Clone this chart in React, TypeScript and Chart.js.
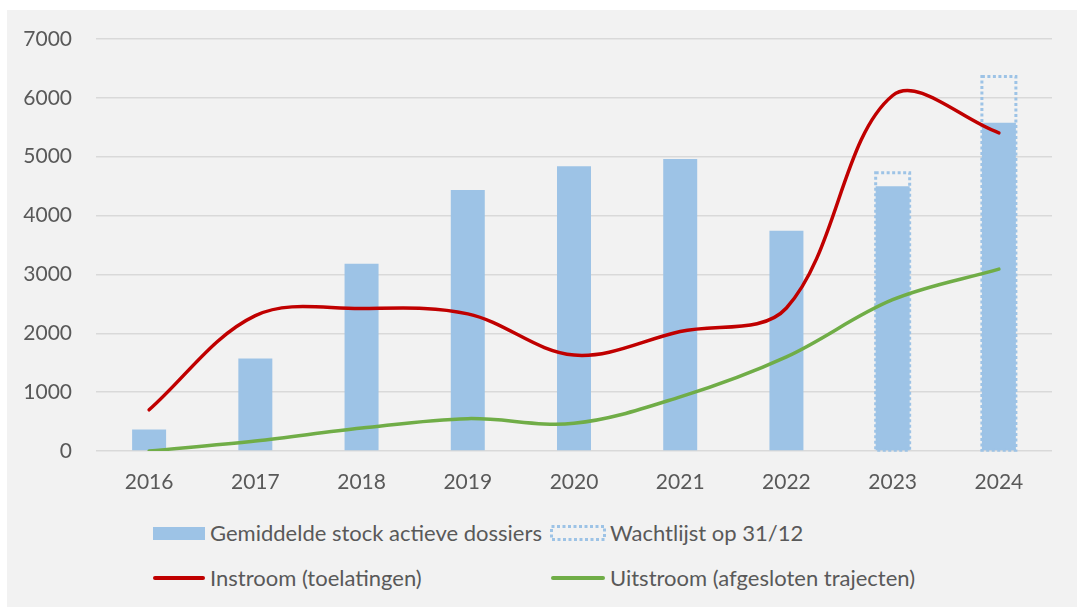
import React, { useEffect, useRef } from "react";
import { Chart, registerables } from "chart.js";

Chart.register(...registerables);

const categories = ["2016", "2017", "2018", "2019", "2020", "2021", "2022", "2023", "2024"];
const stockActief = [367, 1570, 3180, 4435, 4840, 4960, 3740, 4500, 5575];
const wachtlijst = [null, null, null, null, null, null, null, 4755, 6390];
const instroom = [700, 2300, 2420, 2330, 1630, 2030, 2430, 6040, 5405];
const uitstroom = [0, 170, 390, 550, 470, 920, 1600, 2570, 3090];
const yTicks = [0, 1000, 2000, 3000, 4000, 5000, 6000, 7000];

const labelStock = "Gemiddelde stock actieve dossiers";
const labelWacht = "Wachtlijst op 31/12";
const labelIn = "Instroom (toelatingen)";
const labelUit = "Uitstroom (afgesloten trajecten)";

const BLUE = "#9dc3e6";
const RED = "#c00000";
const GREEN = "#70ad47";
const TEXT = "#595959";
const FONT = "Lato, 'Open Sans', sans-serif";

const dottedPlugin = {
  id: "dottedWacht",
  afterDatasetDraw(chart: any, args: any) {
    if (args.index !== 1) return;
    const meta = chart.getDatasetMeta(1);
    const ctx = chart.ctx;
    ctx.save();
    ctx.setLineDash([3, 2.5]);
    ctx.lineWidth = 3;
    ctx.strokeStyle = BLUE;
    meta.data.forEach((el: any, i: number) => {
      if (wachtlijst[i] == null) return;
      const p = el.getProps(["x", "y", "base", "width"], true);
      const w = p.width;
      ctx.strokeRect(p.x - w / 2, p.y + 1.5, w, p.base - p.y - 1.5);
    });
    ctx.restore();
  },
};

export default function App() {
  const ref = useRef<HTMLCanvasElement>(null);

  useEffect(() => {
    if (!ref.current) return;
    const chart = new Chart(ref.current, {
      type: "bar",
      data: {
        labels: categories,
        datasets: [
          {
            type: "bar",
            label: labelStock,
            data: stockActief,
            backgroundColor: BLUE,
            grouped: false,
            barPercentage: 0.32,
            categoryPercentage: 1,
            order: 2,
          } as any,
          {
            type: "bar",
            label: labelWacht,
            data: wachtlijst,
            backgroundColor: "rgba(0,0,0,0)",
            borderWidth: 0,
            grouped: false,
            barPercentage: 0.32,
            categoryPercentage: 1,
            order: 1,
          } as any,
          {
            type: "line",
            label: labelIn,
            data: instroom,
            borderColor: RED,
            backgroundColor: RED,
            borderWidth: 3.5,
            pointRadius: 0,
            tension: 0.35,
            borderCapStyle: "round",
            order: 0,
          } as any,
          {
            type: "line",
            label: labelUit,
            data: uitstroom,
            borderColor: GREEN,
            backgroundColor: GREEN,
            borderWidth: 3.5,
            pointRadius: 0,
            tension: 0.35,
            borderCapStyle: "round",
            order: 0,
          } as any,
        ],
      },
      options: {
        animation: false,
        responsive: false,
        maintainAspectRatio: false,
        layout: { padding: { top: 29, right: 25, left: 0, bottom: 0 } },
        plugins: {
          legend: { display: false },
          tooltip: { enabled: false },
        },
        scales: {
          x: {
            grid: { display: false },
            border: { display: false },
            ticks: {
              color: TEXT,
              font: { family: FONT, size: 21 },
              padding: 11,
              maxRotation: 0,
            },
            afterFit(scale: any) {
              scale.height = 59;
            },
          },
          y: {
            min: 0,
            max: 7000,
            afterBuildTicks(scale: any) {
              scale.ticks = yTicks.map((v) => ({ value: v }));
            },
            grid: {
              color: "#d9d9d9",
              lineWidth: 1.5,
              drawTicks: true,
              tickLength: 24,
              tickColor: "rgba(0,0,0,0)",
            },
            border: { display: false },
            ticks: {
              color: TEXT,
              font: { family: FONT, size: 21 },
              padding: 0,
              callback: (v: any) => String(v),
            },
            afterFit(scale: any) {
              scale.width = 89;
            },
          },
        },
      } as any,
      plugins: [dottedPlugin],
    });
    return () => chart.destroy();
  }, []);

  const textStyle: React.CSSProperties = {
    position: "absolute",
    fontFamily: FONT,
    fontSize: 22,
    color: TEXT,
    lineHeight: "30px",
    height: 30,
    whiteSpace: "nowrap",
  };

  const row1 = 523;
  const row2 = 568;

  return (
    <div style={{ position: "fixed", left: 0, top: 0, width: 1077, height: 607, background: "#ffffff" }}>
      <div style={{ position: "absolute", left: 7, top: 10, width: 1070, height: 597, background: "#f2f2f2" }}>
        <canvas ref={ref} width={1070} height={500} style={{ position: "absolute", left: 0, top: 0, width: 1070, height: 500 }} />
        <div style={{ position: "absolute", left: 146, top: row1 - 6.5, width: 52, height: 13, background: BLUE }} />
        <div style={{ ...textStyle, left: 203, top: row1 - 15 }}>{labelStock}</div>
        <svg style={{ position: "absolute", left: 543, top: row1 - 8 }} width={56} height={16}>
          <rect x={1.5} y={1.5} width={53} height={13} fill="none" stroke={BLUE} strokeWidth={3} strokeDasharray="3 2.5" />
        </svg>
        <div style={{ ...textStyle, left: 603, top: row1 - 15 }}>{labelWacht}</div>
        <div style={{ position: "absolute", left: 146, top: row2 - 1.75, width: 52, height: 3.5, background: RED, borderRadius: 2 }} />
        <div style={{ ...textStyle, left: 203, top: row2 - 15 }}>{labelIn}</div>
        <div style={{ position: "absolute", left: 544, top: row2 - 1.75, width: 54, height: 3.5, background: GREEN, borderRadius: 2 }} />
        <div style={{ ...textStyle, left: 603, top: row2 - 15 }}>{labelUit}</div>
      </div>
    </div>
  );
}
